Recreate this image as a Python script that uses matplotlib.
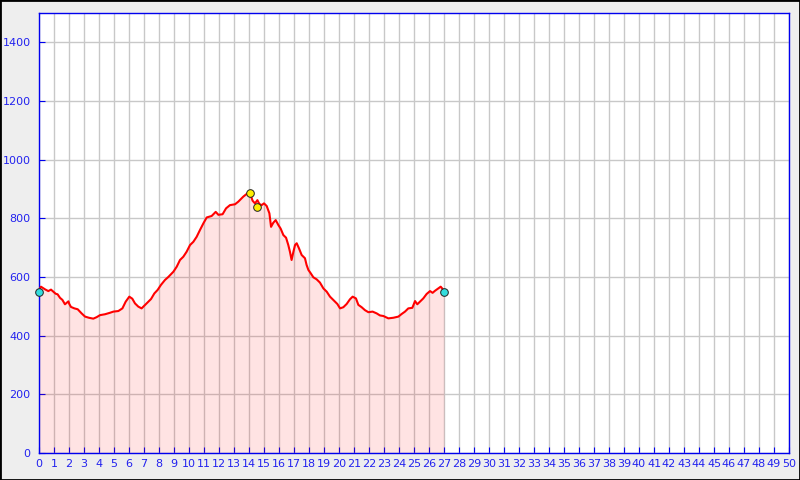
import matplotlib
matplotlib.use("Agg")
import matplotlib.pyplot as plt
import numpy as np
from matplotlib.patches import Rectangle

# elevation profile: distance (km) and elevation (m)
dist = [0.0, 0.13, 0.4, 0.62, 0.8, 0.96, 1.11, 1.24, 1.4, 1.56, 1.73, 1.84, 1.96, 2.02,
        2.13, 2.36, 2.58, 2.84, 3.07, 3.33, 3.62, 3.84, 4.07, 4.4, 4.73, 4.96, 5.29,
        5.56, 5.78, 6.02, 6.22, 6.4, 6.62, 6.84, 7.02, 7.29, 7.47, 7.69, 7.91, 8.13,
        8.4, 8.62, 8.96, 9.18, 9.4, 9.62, 9.84, 10.07, 10.29, 10.51, 10.73, 10.96,
        11.18, 11.51, 11.78, 11.96, 12.24, 12.47, 12.73, 13.07, 13.29, 13.62, 13.89,
        14.07, 14.24, 14.4, 14.56, 14.69, 14.84, 15.0, 15.18, 15.36, 15.47, 15.62,
        15.78, 15.96, 16.11, 16.29, 16.47, 16.62, 16.73, 16.84, 16.96, 17.07, 17.18,
        17.33, 17.51, 17.73, 17.84, 17.96, 18.11, 18.29, 18.51, 18.73, 18.96, 19.18,
        19.4, 19.62, 19.89, 20.07, 20.29, 20.51, 20.73, 20.91, 21.13, 21.29, 21.51,
        21.73, 21.96, 22.24, 22.51, 22.73, 22.96, 23.29, 23.62, 23.96, 24.18, 24.4,
        24.62, 24.89, 25.07, 25.22, 25.4, 25.62, 25.84, 26.07, 26.24, 26.4, 26.62,
        26.78, 26.96, 27.0]
elev = [555, 567, 558, 552, 557, 550, 543, 541, 529, 522, 507, 512, 517, 508,
        498, 493, 490, 476, 465, 461, 458, 463, 470, 473, 478, 482, 484,
        493, 516, 533, 526, 510, 499, 493, 502, 516, 525, 544, 556, 573,
        590, 600, 618, 635, 658, 669, 686, 709, 720, 737, 760, 783,
        803, 808, 822, 812, 814, 834, 845, 848, 857, 874, 885,
        885, 860, 851, 862, 849, 845, 851, 842, 817, 771, 785,
        794, 777, 765, 743, 734, 709, 686, 658, 686, 709, 715,
        698, 675, 664, 641, 624, 613, 599, 592, 581, 561, 550,
        533, 522, 508, 493, 497, 508, 524, 533, 527, 505, 497,
        487, 480, 482, 476, 469, 467, 459, 461, 465, 474, 482,
        493, 495, 518, 507, 516, 527, 542, 552, 546, 553, 561,
        567, 556, 550]

# markers
start_end_x = [0.0, 27.0]
start_end_y = [550, 550]
peak_x = [14.07, 14.56]
peak_y = [887, 838]

fig = plt.figure(figsize=(8, 4.8), dpi=100, facecolor="#eeeeee")
fig.patches.append(Rectangle((0, 0), 1, 1, transform=fig.transFigure,
                             fill=False, edgecolor="black", linewidth=2))
ax = fig.add_axes([39 / 800, 27 / 480, 750 / 800, 440 / 480])
ax.set_facecolor("white")

ax.set_xlim(0, 50)
ax.set_ylim(0, 1500)
ax.set_xticks(np.arange(0, 51, 1))
ax.set_yticks(np.arange(0, 1401, 200))
ax.grid(True, color="#c8c8c8", linewidth=1)
ax.set_axisbelow(True)

ax.fill_between(dist, elev, 0, color="red", alpha=0.11, linewidth=0, zorder=2)
ax.plot(dist, elev, color="red", linewidth=1.5, zorder=3)
ax.plot(start_end_x, start_end_y, "o", color="#33dddd", markeredgecolor="#222222",
        markersize=5.5, markeredgewidth=0.7, zorder=4, clip_on=False)
ax.plot(peak_x, peak_y, "o", color="#ffee00", markeredgecolor="#222222",
        markersize=5.5, markeredgewidth=0.7, zorder=4)

for s in ax.spines.values():
    s.set_color("#0000ee")
    s.set_linewidth(1)
ax.tick_params(axis="both", direction="in", length=4, color="#0000ee",
               labelcolor="#2222ee", labelsize=8)
ax.tick_params(axis="y", pad=6)
ax.tick_params(axis="x", pad=4)

fig.savefig("out.png", dpi=100, facecolor=fig.get_facecolor())
